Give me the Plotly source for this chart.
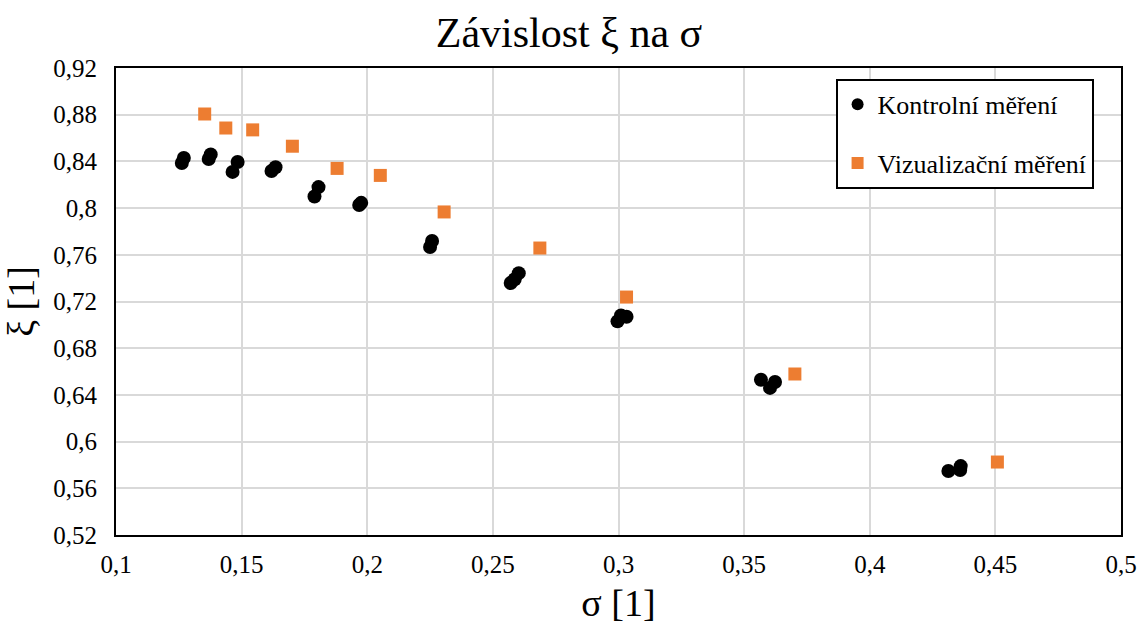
import plotly.graph_objects as go

kontrol_sigma = [0.1262, 0.1270, 0.1369, 0.1377, 0.1464, 0.1484, 0.1619, 0.1635,
                 0.1790, 0.1806, 0.1968, 0.1976, 0.2250, 0.2258, 0.2571, 0.2587, 0.2603,
                 0.2996, 0.3010, 0.3032, 0.3567, 0.3603, 0.3623, 0.4313, 0.4360, 0.4362]
kontrol_xi = [0.8386, 0.8430, 0.8420, 0.8460, 0.8310, 0.8395, 0.8318, 0.8350,
              0.8100, 0.8180, 0.8027, 0.8045, 0.7667, 0.7718, 0.7358, 0.7390, 0.7443,
              0.7030, 0.7080, 0.7070, 0.6530, 0.6460, 0.6510, 0.5748, 0.5757, 0.5790]

vizual_sigma = [0.1353, 0.1437, 0.1544, 0.1702, 0.1880, 0.2052, 0.2306, 0.2687,
                0.3032, 0.3702, 0.4508]
vizual_xi = [0.8806, 0.8686, 0.8670, 0.8530, 0.8340, 0.8280, 0.7967, 0.7658,
             0.7238, 0.6579, 0.5825]

x_ticks = [0.1, 0.15, 0.2, 0.25, 0.3, 0.35, 0.4, 0.45, 0.5]
y_ticks = [0.52, 0.56, 0.6, 0.64, 0.68, 0.72, 0.76, 0.8, 0.84, 0.88, 0.92]

def lab(v):
    s = f"{v:.2f}".rstrip("0").rstrip(".")
    return s.replace(".", ",")

font = "Liberation Serif"

fig = go.Figure()
fig.add_trace(go.Scatter(x=kontrol_sigma, y=kontrol_xi, mode="markers",
                         name="Kontrolní měření", legendgroup="k",
                         marker=dict(symbol="circle", size=14, color="black")))
fig.add_trace(go.Scatter(x=vizual_sigma, y=vizual_xi, mode="markers",
                         name="Vizualizační měření", legendgroup="v",
                         marker=dict(symbol="square", size=13, color="#ED7D31")))

fig.update_layout(
    width=1138, height=624,
    paper_bgcolor="white", plot_bgcolor="white",
    margin=dict(l=116, r=17, t=68, b=89, autoexpand=False),
    font=dict(family=font, color="black"),
    title=dict(text="Závislost ξ na σ", x=0.5, xanchor="center", y=0.949, yanchor="middle",
               font=dict(size=42, family=font, color="black")),
    xaxis=dict(range=[0.1, 0.5], tickvals=x_ticks, ticktext=[lab(v) for v in x_ticks],
               showgrid=True, gridcolor="#d9d9d9", gridwidth=2, automargin=False,
               showline=True, linecolor="black", linewidth=2, mirror=True,
               ticks="", tickfont=dict(size=25, family=font), zeroline=False,
               ticklabelstandoff=6,
               title=dict(text="σ [1]", font=dict(size=38, family=font), standoff=12)),
    yaxis=dict(range=[0.52, 0.92], tickvals=y_ticks, ticktext=[lab(v) for v in y_ticks],
               showgrid=True, gridcolor="#d9d9d9", gridwidth=2, automargin=False,
               showline=True, linecolor="black", linewidth=2, mirror=True,
               ticks="", tickfont=dict(size=25, family=font), zeroline=False,
               ticklabelstandoff=12,
               title=dict(text="ξ [1]", font=dict(size=38, family=font), standoff=14)),
    legend=dict(x=0.716, y=0.977, xanchor="left", yanchor="top",
                bgcolor="white", bordercolor="black", borderwidth=2,
                font=dict(size=26, family=font), itemsizing="constant",
                tracegroupgap=22, itemwidth=30),
    showlegend=True,
)
fig.write_html("out.html", config={"displayModeBar": False},
               post_script="document.body.style.margin='0';document.body.style.overflow='hidden';")
